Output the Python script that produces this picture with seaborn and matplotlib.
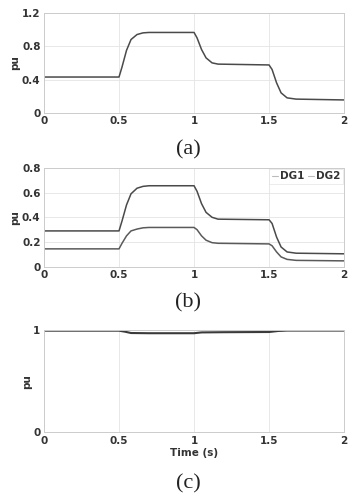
import matplotlib
matplotlib.use("Agg")
import matplotlib.pyplot as plt
import seaborn as sns
import pandas as pd

# ---- data ----
t_a = [0, 0.5, 0.52, 0.55, 0.58, 0.62, 0.66, 0.7, 1.0, 1.02, 1.05, 1.08, 1.12, 1.16, 1.5, 1.52, 1.55, 1.58, 1.62, 1.68, 2.0]
total = [0.43, 0.43, 0.55, 0.75, 0.88, 0.94, 0.96, 0.965, 0.965, 0.90, 0.76, 0.66, 0.60, 0.585, 0.575, 0.52, 0.36, 0.24, 0.18, 0.165, 0.155]

t_b = [0, 0.5, 0.52, 0.55, 0.58, 0.62, 0.66, 0.7, 1.0, 1.02, 1.05, 1.08, 1.12, 1.16, 1.5, 1.52, 1.55, 1.58, 1.62, 1.68, 2.0]
dg1 = [0.29, 0.29, 0.37, 0.50, 0.59, 0.635, 0.65, 0.655, 0.655, 0.61, 0.51, 0.44, 0.40, 0.385, 0.38, 0.35, 0.24, 0.16, 0.12, 0.11, 0.105]
dg2 = [0.145, 0.145, 0.19, 0.25, 0.29, 0.305, 0.315, 0.318, 0.318, 0.30, 0.25, 0.215, 0.195, 0.19, 0.185, 0.17, 0.12, 0.08, 0.06, 0.052, 0.048]

t_c = [0, 0.5, 0.54, 0.58, 0.7, 1.0, 1.05, 1.2, 1.5, 1.56, 1.62, 2.0]
volt = [0.995, 0.995, 0.985, 0.972, 0.970, 0.970, 0.978, 0.980, 0.982, 0.992, 0.996, 0.996]

xticks = [0, 0.5, 1, 1.5, 2]
xticklabels = ["0", "0.5", "1", "1.5", "2"]
yticks_a = [0, 0.4, 0.8, 1.2]
yticklabels_a = ["0", "0.4", "0.8", "1.2"]
yticks_b = [0, 0.2, 0.4, 0.6, 0.8]
yticklabels_b = ["0", "0.2", "0.4", "0.6", "0.8"]
yticks_c = [0, 1]
yticklabels_c = ["0", "1"]
panel_labels = ["(a)", "(b)", "(c)"]
legend_labels = ["DG1", "DG2"]

sns.set_theme(style="whitegrid")
plt.rcParams["font.family"] = ["DejaVu Sans"]

fig = plt.figure(figsize=(3.49, 4.95), dpi=100)
left, width = 0.126, 0.86
ax_a = fig.add_axes([left, 0.772, width, 0.202])
ax_b = fig.add_axes([left, 0.461, width, 0.200])
ax_c = fig.add_axes([left, 0.127, width, 0.206])

line_col = "#4a4a4a"
tick_kw = dict(fontsize=7.5, fontweight="bold", color="#333333")

df_a = pd.DataFrame({"t": t_a, "v": total})
sns.lineplot(data=df_a, x="t", y="v", ax=ax_a, color=line_col, lw=1.1)

df_b = pd.DataFrame({"t": t_b + t_b, "v": dg1 + dg2,
                     "s": [legend_labels[0]] * len(t_b) + [legend_labels[1]] * len(t_b)})
sns.lineplot(data=df_b, x="t", y="v", hue="s", ax=ax_b,
             palette=[line_col, "#5a5a5a"], lw=1.1)

df_c = pd.DataFrame({"t": t_c, "v": volt})
sns.lineplot(data=df_c, x="t", y="v", ax=ax_c, color="#3a3a3a", lw=1.5)

specs = [(ax_a, yticks_a, yticklabels_a, (0, 1.2)),
         (ax_b, yticks_b, yticklabels_b, (0, 0.8)),
         (ax_c, yticks_c, yticklabels_c, (0, 1.0))]
for ax, yt, ytl, yl in specs:
    ax.set_xlim(0, 2)
    ax.set_ylim(*yl)
    ax.set_xticks(xticks)
    ax.set_xticklabels(xticklabels, **tick_kw)
    ax.set_yticks(yt)
    ax.set_yticklabels(ytl, **tick_kw)
    ax.tick_params(axis="x", pad=2.5, length=0)
    ax.tick_params(axis="y", pad=2.5, length=0)
    ax.set_xlabel("")
    ax.set_ylabel("pu", fontsize=7.5, fontweight="bold", color="#333333", labelpad=1)
    ax.grid(True, color="#e4e4e4", lw=0.6)
    for s in ax.spines.values():
        s.set_color("#cccccc")
        s.set_linewidth(0.7)

ax_c.set_xlabel("Time (s)", fontsize=7.5, fontweight="bold", color="#333333", labelpad=1.5)

leg = ax_b.legend(loc="upper right", ncol=2, fontsize=7.5, frameon=True,
                  handlelength=0.6, handletextpad=0.2, columnspacing=0.3,
                  borderpad=0.25, borderaxespad=0.1, fancybox=False)
leg.get_frame().set_edgecolor("#dddddd")
leg.get_frame().set_linewidth(0.5)
for txt in leg.get_texts():
    txt.set_fontweight("bold")
    txt.set_color("#333333")
for h in leg.get_lines():
    h.set_color("#bbbbbb")
    h.set_linewidth(0.8)

serif = ["Liberation Serif", "DejaVu Serif"]
for ypos, lab in zip([0.697, 0.388, 0.022], panel_labels):
    fig.text(0.54, ypos, lab, ha="center", va="center", fontsize=16, family=serif, color="#222222")

fig.savefig("out.png", dpi=100)
